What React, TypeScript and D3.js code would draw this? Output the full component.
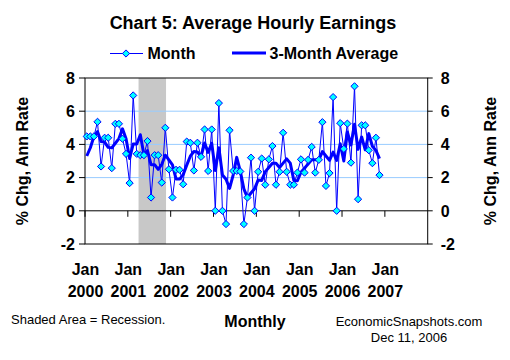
import React from "react";
import * as d3 from "d3";

const startYear = 2000;
const yearLabels = ["2000", "2001", "2002", "2003", "2004", "2005", "2006", "2007"];
const yTicks = [-2, 0, 2, 4, 6, 8];
const gridValues = [2, 4, 6];
const recessionStart = 15; // month index (Apr 2001 boundary)
const recessionEnd = 22.7;

const monthValues = [
  4.48, 4.48, 4.48, 5.36, 2.67, 4.4, 4.4, 2.57, 5.24, 5.24, 4.34, 3.43,
  1.67, 6.95, 3.43, 3.35, 3.35, 4.2, 0.8, 3.35, 3.35, 1.7, 5.0, 2.5,
  0.8, 2.47, 2.47, 1.6, 4.17, 4.1, 2.43, 4.1, 3.25, 4.9, 2.4, 4.9,
  0.0, 6.49, 0.0, -0.8, 4.85, 2.4, 2.4, 2.37, -0.8, 0.8, 3.2, 0.0,
  2.35, 3.15, 1.57, 3.1, 3.9, 1.57, 2.35, 4.7, 2.35, 1.57, 1.57, 2.3,
  3.1, 2.3, 3.07, 3.85, 2.3, 3.07, 5.34, 1.5, 2.27, 6.85, 0.0, 5.28,
  3.73, 5.25, 2.9, 7.5, 0.7, 5.15, 5.15, 3.65, 2.87, 4.4, 2.15,
];

const avgValues = [
  3.3, 3.8, 4.48, 4.77, 4.17, 4.14, 3.82, 3.79, 4.07, 4.35, 4.94, 4.34,
  3.15, 4.02, 4.02, 4.58, 3.38, 3.63, 2.78, 2.78, 2.5, 2.8, 3.35, 3.07,
  2.77, 1.92, 1.91, 2.18, 2.75, 3.29, 3.57, 3.54, 3.26, 4.08, 3.52, 4.07,
  2.43, 3.8, 2.16, 1.9, 1.35, 2.15, 3.22, 2.39, 1.32, 0.79, 1.07, 1.33,
  1.85, 1.83, 2.36, 2.61, 2.86, 2.86, 2.61, 2.87, 3.13, 2.87, 1.83, 1.81,
  2.32, 2.57, 2.82, 3.07, 3.07, 3.07, 3.57, 3.3, 3.04, 3.54, 3.04, 4.04,
  3.0, 4.75, 3.96, 5.22, 3.7, 4.45, 3.67, 4.65, 3.89, 3.64, 3.14,
];

const FONT = "'Liberation Sans', Arial, Helvetica, sans-serif";
const BLUE = "#0000FF";

export default function App() {
  const left = 85, right = 427.7, top = 78, bottom = 244;
  const x = d3.scaleLinear().domain([0, 96]).range([left, right]);
  const y = d3.scaleLinear().domain([-2, 8]).range([bottom, top]);

  const line = d3
    .line<number>()
    .x((_, i) => x(i + 0.5))
    .y((d) => y(d));

  const diamond = "M0,-3.6L3.6,0L0,3.6L-3.6,0Z";
  const yearIdx = yearLabels.map((_, i) => i * 12);

  return (
    <svg
      width={510}
      height={360}
      style={{ position: "absolute", left: 0, top: 0, background: "#fff" }}
      fontFamily={FONT}
    >
      <rect x={0} y={0} width={510} height={360} fill="#fff" />
      {/* Title */}
      <text x={253} y={29} textAnchor="middle" fontSize={18} fontWeight="bold">
        Chart 5: Average Hourly Earnings
      </text>
      {/* Legend */}
      <line x1={110} x2={143} y1={53.5} y2={53.5} stroke={BLUE} strokeWidth={1} />
      <path d={diamond} transform="translate(126,53.5)" fill="#00FFFF" stroke={BLUE} strokeWidth={1} />
      <text x={147.5} y={59} fontSize={16} fontWeight="bold">Month</text>
      <line x1={232} x2={266} y1={53} y2={53} stroke={BLUE} strokeWidth={3} />
      <text x={269.5} y={59} fontSize={16} fontWeight="bold">3-Month Average</text>

      {/* Recession shading */}
      <rect
        x={x(recessionStart)}
        y={top}
        width={x(recessionEnd) - x(recessionStart)}
        height={bottom - top}
        fill="#C8C8C8"
      />
      {/* Gridlines */}
      {gridValues.map((g) => (
        <line key={g} x1={left} x2={right} y1={y(g)} y2={y(g)} stroke="#99CCFF" strokeWidth={1} />
      ))}
      {/* zero axis */}
      <line x1={left} x2={right} y1={y(0)} y2={y(0)} stroke="#000" strokeWidth={1} />
      {yearIdx.map((m) => (
        <line key={m} x1={x(m)} x2={x(m)} y1={y(0)} y2={y(0) + 6} stroke="#000" strokeWidth={1} />
      ))}
      {/* frame */}
      <rect x={left} y={top} width={right - left} height={bottom - top} fill="none" stroke="#000" strokeWidth={1} />
      {/* y ticks */}
      {yTicks.map((t) => (
        <g key={t}>
          <line x1={left - 6} x2={left} y1={y(t)} y2={y(t)} stroke="#000" />
          <line x1={right} x2={right + 5} y1={y(t)} y2={y(t)} stroke="#000" />
          <text x={left - 10} y={y(t)} dy="0.36em" textAnchor="end" fontSize={16} fontWeight="bold">
            {t}
          </text>
          <text x={right + 13} y={y(t)} dy="0.36em" textAnchor="start" fontSize={16} fontWeight="bold">
            {t}
          </text>
        </g>
      ))}
      {/* x labels */}
      {yearLabels.map((yl, i) => (
        <g key={yl}>
          <text x={x(i * 12) + 0.5} y={275} textAnchor="middle" fontSize={16} fontWeight="bold">Jan</text>
          <text x={x(i * 12) + 0.5} y={297} textAnchor="middle" fontSize={16} fontWeight="bold">{yl}</text>
        </g>
      ))}
      {/* axis titles */}
      <text
        transform={`translate(28,${(top + bottom) / 2}) rotate(-90)`}
        textAnchor="middle"
        fontSize={16}
        fontWeight="bold"
      >
        % Chg, Ann Rate
      </text>
      <text
        transform={`translate(496,${(top + bottom) / 2}) rotate(-90)`}
        textAnchor="middle"
        fontSize={16}
        fontWeight="bold"
      >
        % Chg, Ann Rate
      </text>

      {/* Series */}
      <path d={line(monthValues) || ""} fill="none" stroke={BLUE} strokeWidth={1} />
      <path d={line(avgValues) || ""} fill="none" stroke={BLUE} strokeWidth={3} strokeLinejoin="round" />
      {monthValues.map((v, i) => (
        <path
          key={i}
          d={diamond}
          transform={`translate(${x(i + 0.5)},${y(v)})`}
          fill="#00FFFF"
          stroke={BLUE}
          strokeWidth={1}
        />
      ))}

      {/* Footer */}
      <text x={11} y={324} fontSize={13}>Shaded Area = Recession.</text>
      <text x={255} y={327} textAnchor="middle" fontSize={16} fontWeight="bold">Monthly</text>
      <text x={409} y={326} textAnchor="middle" fontSize={13}>EconomicSnapshots.com</text>
      <text x={409} y={342} textAnchor="middle" fontSize={13}>Dec 11, 2006</text>
    </svg>
  );
}
